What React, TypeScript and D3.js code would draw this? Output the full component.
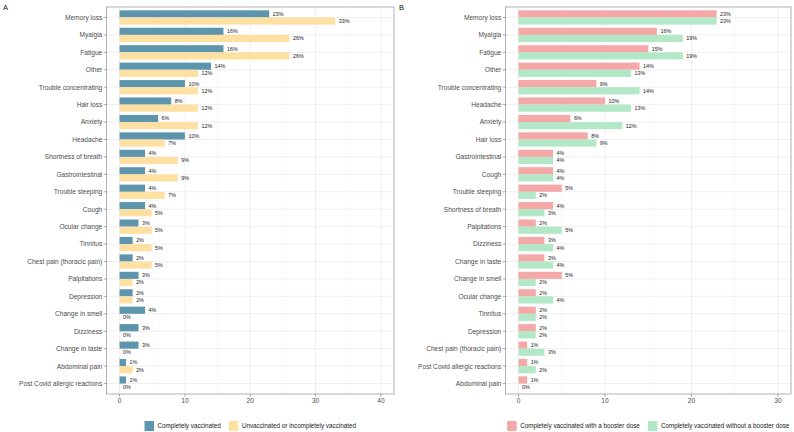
import React, { useEffect, useRef } from 'react';
import * as d3 from 'd3';

// Panel A: completely vaccinated vs unvaccinated / incompletely vaccinated (%)
const symptomsA = [
  'Memory loss', 'Myalgia', 'Fatigue', 'Other', 'Trouble concentrating', 'Hair loss',
  'Anxiety', 'Headache', 'Shortness of breath', 'Gastrointestinal', 'Trouble sleeping',
  'Cough', 'Ocular change', 'Tinnitus', 'Chest pain (thoracic pain)', 'Palpitations',
  'Depression', 'Change in smell', 'Dizziness', 'Change in taste', 'Abdominal pain',
  'Post Covid allergic reactions',
];
const completelyVaccinated = [22.9, 15.9, 15.9, 14.0, 10.0, 7.9, 5.9, 10.0, 3.9, 3.9, 3.9, 3.9, 2.9, 2.0, 2.0, 2.9, 2.0, 3.9, 2.9, 2.9, 1.0, 1.0];
const unvaccinated = [33.0, 26.0, 26.0, 12.0, 12.0, 12.0, 12.0, 6.9, 8.9, 8.9, 6.9, 4.9, 4.9, 4.9, 4.9, 2.0, 2.0, 0, 0, 0, 2.0, 0];

// Panel B: with vs without a booster dose (%)
const symptomsB = [
  'Memory loss', 'Myalgia', 'Fatigue', 'Other', 'Trouble concentrating', 'Headache',
  'Anxiety', 'Hair loss', 'Gastrointestinal', 'Cough', 'Trouble sleeping',
  'Shortness of breath', 'Palpitations', 'Dizziness', 'Change in taste', 'Change in smell',
  'Ocular change', 'Tinnitus', 'Depression', 'Chest pain (thoracic pain)',
  'Post Covid allergic reactions', 'Abdominal pain',
];
const withBooster = [22.9, 16.0, 15.0, 14.0, 9.0, 10.0, 6.0, 8.0, 4.0, 4.0, 5.0, 4.0, 2.0, 3.0, 3.0, 5.0, 2.0, 2.0, 2.0, 1.0, 1.0, 1.0];
const withoutBooster = [22.9, 19.0, 19.0, 13.0, 14.0, 13.0, 12.0, 9.0, 4.0, 4.0, 2.0, 3.0, 5.0, 4.0, 4.0, 2.0, 4.0, 2.0, 2.0, 3.0, 2.0, 0];

const ticksA = [0, 10, 20, 30, 40];
const ticksB = [0, 10, 20, 30];

const FONT = '"Liberation Sans", Arial, sans-serif';

type Series = { name: string; values: number[]; color: string };

function drawPanel(svg: any, o: {
  tag: string; tagX: number; left: number; right: number; top: number; bottom: number;
  categories: string[]; series: Series[]; ticks: number[];
}) {
  const lo = o.ticks[0];
  const hi = o.ticks[o.ticks.length - 1];
  const pad = (hi - lo) * 0.05;
  const x = d3.scaleLinear().domain([lo - pad, hi + pad]).range([o.left, o.right]);
  const y = d3.scalePoint<string>().domain(o.categories).range([o.top, o.bottom]).padding(0.6);
  const step = y.step();
  const barH = (step * 0.82) / o.series.length;
  const minor = o.ticks.slice(1).map((t, i) => (t + o.ticks[i]) / 2);

  const g = svg.append('g');

  g.append('text').attr('x', o.tagX).attr('y', 9.5).attr('font-size', 7.5)
    .attr('font-family', FONT).attr('fill', '#111').text(o.tag);

  // grid
  g.selectAll('.minor').data(minor).enter().append('line')
    .attr('x1', (d: number) => x(d)).attr('x2', (d: number) => x(d))
    .attr('y1', o.top).attr('y2', o.bottom)
    .attr('stroke', '#f3f3f3').attr('stroke-width', 0.5);
  g.selectAll('.major').data(o.ticks).enter().append('line')
    .attr('x1', (d: number) => x(d)).attr('x2', (d: number) => x(d))
    .attr('y1', o.top).attr('y2', o.bottom)
    .attr('stroke', '#e8e8e8').attr('stroke-width', 0.7);
  g.selectAll('.hgrid').data(o.categories).enter().append('line')
    .attr('x1', o.left).attr('x2', o.right)
    .attr('y1', (d: string) => y(d)).attr('y2', (d: string) => y(d))
    .attr('stroke', '#e8e8e8').attr('stroke-width', 0.7);

  // bars + labels
  o.series.forEach((s, si) => {
    const rows = o.categories.map((c, i) => ({ c, v: s.values[i] }));
    g.append('g').selectAll('rect').data(rows).enter().append('rect')
      .attr('x', x(0))
      .attr('y', (d: any) => (y(d.c) as number) - (step * 0.82) / 2 + si * barH)
      .attr('width', (d: any) => Math.max(0, x(d.v) - x(0)))
      .attr('height', barH)
      .attr('fill', s.color);
    g.append('g').selectAll('text').data(rows).enter().append('text')
      .attr('x', (d: any) => x(d.v) + 3.5)
      .attr('y', (d: any) => (y(d.c) as number) - (step * 0.82) / 2 + si * barH + barH / 2 + 1.9)
      .attr('font-size', 5.4).attr('font-family', FONT).attr('fill', '#222')
      .text((d: any) => `${Math.round(d.v)}%`);
  });

  // border
  g.append('rect').attr('x', o.left).attr('y', o.top)
    .attr('width', o.right - o.left).attr('height', o.bottom - o.top)
    .attr('fill', 'none').attr('stroke', '#9e9e9e').attr('stroke-width', 0.8);

  // y axis
  g.selectAll('.ytick').data(o.categories).enter().append('line')
    .attr('x1', o.left - 2.7).attr('x2', o.left)
    .attr('y1', (d: string) => y(d)).attr('y2', (d: string) => y(d))
    .attr('stroke', '#555').attr('stroke-width', 0.5);
  g.selectAll('.ylab').data(o.categories).enter().append('text')
    .attr('x', o.left - 4.2).attr('y', (d: string) => (y(d) as number) + 2.4)
    .attr('text-anchor', 'end').attr('font-size', 6.6).attr('font-family', FONT)
    .attr('fill', '#4d4d4d').text((d: string) => d);

  // x axis
  g.selectAll('.xtick').data(o.ticks).enter().append('line')
    .attr('x1', (d: number) => x(d)).attr('x2', (d: number) => x(d))
    .attr('y1', o.bottom).attr('y2', o.bottom + 2.7)
    .attr('stroke', '#555').attr('stroke-width', 0.5);
  g.selectAll('.xlab').data(o.ticks).enter().append('text')
    .attr('x', (d: number) => x(d)).attr('y', o.bottom + 9.4)
    .attr('text-anchor', 'middle').attr('font-size', 6.6).attr('font-family', FONT)
    .attr('fill', '#4d4d4d').text((d: number) => d);

  // legend, centred under the panel
  const lg = g.append('g');
  const keyW = 9.5, keyH = 10, gapText = 3.5, gapItem = 8, ky = 421;
  let cx = 0;
  o.series.forEach((s, si) => {
    lg.append('rect').attr('x', cx).attr('y', ky).attr('width', keyW).attr('height', keyH).attr('fill', s.color);
    const t = lg.append('text').attr('x', cx + keyW + gapText).attr('y', ky + keyH / 2 + 2.2)
      .attr('font-size', 6.3).attr('font-family', FONT).attr('fill', '#222').text(s.name);
    const w = (t.node() as SVGTextElement).getComputedTextLength();
    cx += keyW + gapText + w + (si < o.series.length - 1 ? gapItem : 0);
  });
  const mid = (o.left + o.right) / 2;
  lg.attr('transform', `translate(${mid - cx / 2},0)`);
}

const App = () => {
  const ref = useRef<SVGSVGElement | null>(null);

  useEffect(() => {
    const svg = d3.select(ref.current);
    svg.selectAll('*').remove();
    svg.append('rect').attr('width', 794).attr('height', 432).attr('fill', '#fff');

    drawPanel(svg, {
      tag: 'A', tagX: 3, left: 106.5, right: 394, top: 7, bottom: 394,
      categories: symptomsA, ticks: ticksA,
      series: [
        { name: 'Completely vaccinated', values: completelyVaccinated, color: '#5d96ac' },
        { name: 'Unvaccinated or incompletely vaccinated', values: unvaccinated, color: '#fde0a2' },
      ],
    });
    drawPanel(svg, {
      tag: 'B', tagX: 399, left: 505.5, right: 791, top: 7, bottom: 394,
      categories: symptomsB, ticks: ticksB,
      series: [
        { name: 'Completely vaccinated with a booster dose', values: withBooster, color: '#f5a8a8' },
        { name: 'Completely vaccinated without a booster dose', values: withoutBooster, color: '#b3e8c7' },
      ],
    });
  }, []);

  return (
    <svg ref={ref} width={794} height={432}
      style={{ position: 'absolute', left: 0, top: 0, display: 'block' }} />
  );
};

export default App;
